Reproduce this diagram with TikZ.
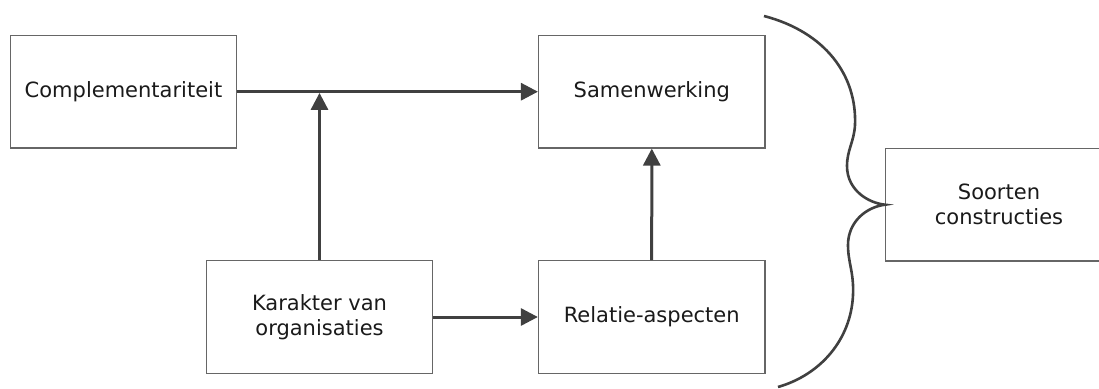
\documentclass[tikz,border=0pt]{standalone}
\usepackage{fontspec}
\setmainfont{DejaVu Sans}
\usetikzlibrary{arrows.meta}
\definecolor{boxline}{HTML}{666666}
\definecolor{linkline}{HTML}{404040}
\definecolor{labeltext}{HTML}{1A1A1A}
\begin{document}
\begin{tikzpicture}[x=1pt,y=-1pt,
  block/.style={draw=boxline, line width=1.2pt, fill=white,
    minimum width=226.5pt, minimum height=112.5pt, inner sep=0pt,
    align=center, text=labeltext,
    font=\fontsize{21}{25}\selectfont},
  link/.style={draw=linkline, line width=3pt,
    -{Triangle[length=17pt,width=17pt]}, fill=linkline},
  bracket/.style={draw=linkline, line width=2.6pt}]
\useasboundingbox (0,0) rectangle (1099,388);
\clip (0,0) rectangle (1099,388);

% boxes
\node[block] (comp) at (123.5,91.7) {Complementariteit};
\node[block] (samen) at (651.8,91.7) {Samenwerking};
\node[block] (karakter) at (319.5,317) {Karakter van\\organisaties};
\node[block] (relatie) at (651.7,317) {Relatie-aspecten};
\node[block] (soorten) at (999,204.7) {Soorten\\constructies};

% connectors
\coordinate (join) at (karakter.north |- comp.east);
\draw[link] (comp.east) -- (samen.west);
\draw[link, shorten >=1.2pt] (karakter.north) -- (join);
\draw[link] (karakter.east) -- (relatie.west);
\draw[link] (relatie.north) -- (samen.south);

% curly bracket gathering everything on the left
\coordinate (btop) at (764,16);
\coordinate (bbot) at (778,387);
\draw[bracket] (btop)
  .. controls (825,32) and (857,75) .. (855,125)
  .. controls (854,142) and (847,150) .. (847,166)
  .. controls (847,190) and (868,203) .. (soorten.west)
  .. controls (866,207) and (848,222) .. (848,245)
  .. controls (848,263) and (854,272) .. (853,295)
  .. controls (851,340) and (820,375) .. (bbot);
\end{tikzpicture}
\end{document}
